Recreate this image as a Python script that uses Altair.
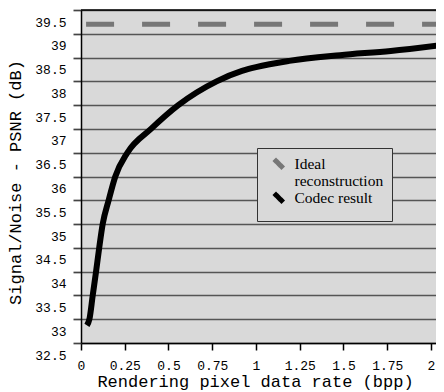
import altair as alt
import pandas as pd

# Codec result curve
codec_rate = [0.034, 0.048, 0.067, 0.086, 0.104, 0.124, 0.158, 0.196, 0.265, 0.40, 0.556,
              0.775, 0.92, 1.0, 1.19, 1.48, 1.77, 2.05]
codec_psnr = [32.87, 33.0, 33.5, 34.0, 34.5, 35.0, 35.5, 36.0, 36.5, 37.0, 37.5,
              38.0, 38.22, 38.3, 38.43, 38.55, 38.64, 38.76]

# Ideal reconstruction (flat)
ideal_rate = [0.029, 2.05]
ideal_psnr = [39.2, 39.2]

x_ticks = [0, 0.25, 0.5, 0.75, 1, 1.25, 1.5, 1.75, 2]
y_ticks = [32.5, 33, 33.5, 34, 34.5, 35, 35.5, 36, 36.5, 37, 37.5, 38, 38.5, 39, 39.5]
series = ["Ideal reconstruction", "Codec result"]
series_colors = ["#777777", "#000000"]

codec_df = pd.DataFrame({"rate": codec_rate, "psnr": codec_psnr, "series": series[1]})
ideal_df = pd.DataFrame({"rate": ideal_rate, "psnr": ideal_psnr, "series": series[0]})

mono = "Liberation Mono"
PLOT_W, PLOT_H = 355, 333

x_enc = alt.X("rate:Q",
              scale=alt.Scale(domain=[0, 2.0286], nice=False, zero=False),
              axis=alt.Axis(values=x_ticks, format=".3~g", title="Rendering pixel data rate (bpp)",
                            grid=False, domainColor="black", domainWidth=1.5,
                            tickColor="black", tickSize=7, tickWidth=1.5,
                            labelFont=mono, labelFontSize=13, labelColor="black",
                            labelPadding=9, labelFlush=False,
                            titleFont=mono, titleFontSize=17, titleFontWeight="normal",
                            titleColor="black", titlePadding=1, titleX=174))
y_enc = alt.Y("psnr:Q",
              scale=alt.Scale(domain=[32.5, 39.5], nice=False, zero=False),
              axis=alt.Axis(values=y_ticks, format=".3~g", title="Signal/Noise - PSNR (dB)",
                            grid=True, gridColor="#555555", gridWidth=1.7, gridOpacity=1,
                            domainColor="black", domainWidth=1.5,
                            tickColor="#444444", tickSize=8, tickWidth=1.7,
                            labelFont=mono, labelFontSize=13, labelColor="black",
                            labelPadding=7, labelOffset=12, labelFlush=False,
                            titleFont=mono, titleFontSize=17, titleFontWeight="normal",
                            titleColor="black", titlePadding=10, titleY=172))

color_enc = alt.Stroke("series:N",
                       scale=alt.Scale(domain=series, range=series_colors),
                       legend=alt.Legend(
                           title=None, orient="none", legendX=176, legendY=138,
                           fillColor="#d9d9d9", strokeColor="#333333", padding=8,
                           labelFont="Liberation Serif", labelFontSize=15.5, labelColor="black",
                           labelExpr="datum.label == 'Ideal reconstruction' ? ['Ideal', 'reconstruction'] : datum.label",
                           symbolType="M-1,-1L1,1", symbolSize=81, symbolStrokeWidth=5,
                           symbolDash=[1, 0], symbolOffset=6, labelOffset=8,
                           rowPadding=-12, labelLimit=200))

ideal = alt.Chart(ideal_df).mark_line(strokeWidth=5, strokeDash=[28, 28], clip=True).encode(
    x=x_enc, y=y_enc, stroke=color_enc)
codec = alt.Chart(codec_df).mark_line(strokeWidth=6, strokeCap="butt", interpolate="monotone",
                                      clip=True).encode(
    x=x_enc, y=y_enc, stroke=color_enc)
# top frame line of the plot area (the right side of the original is cut off)
frame = alt.Chart(pd.DataFrame({"k": [0]})).mark_rule(color="black", strokeWidth=1.5).encode(
    x=alt.value(0), x2=alt.value(PLOT_W), y=alt.value(0))

chart = alt.layer(ideal, codec, frame).properties(
    width=PLOT_W, height=PLOT_H,
    autosize=alt.AutoSizeParams(type="none"),
    padding={"left": 73, "top": 2, "right": 0, "bottom": 48},
    background="white",
).configure_view(fill="#d9d9d9", stroke=None)

chart.save("out.html", embed_options={"renderer": "svg", "actions": False})
